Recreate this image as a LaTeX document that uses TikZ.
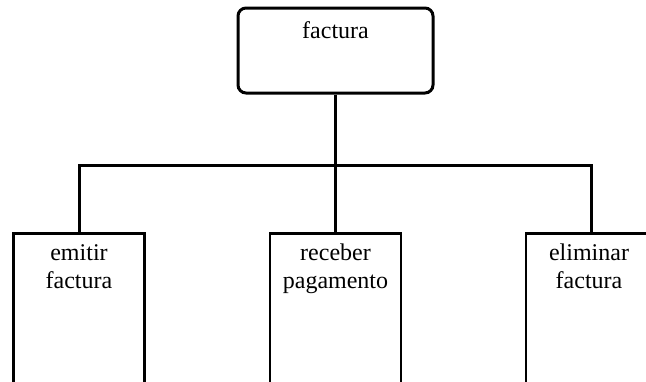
\documentclass[tikz,border=0pt]{standalone}
\usepackage{fontspec}
\setmainfont{Liberation Serif}
\begin{document}
\begin{tikzpicture}[x=1pt,y=-1pt,
  topbox/.style={draw, line width=3pt, rounded corners=8pt, minimum width=195pt, minimum height=85pt, inner sep=0pt},
  subbox/.style={draw, line width=2.6pt, minimum width=131pt, minimum height=151pt, inner sep=0pt, anchor=north},
  lbl/.style={font=\fontsize{24}{28}\selectfont, align=center, anchor=north, inner sep=0pt},
  conn/.style={line width=3pt}]
\useasboundingbox (0,0) rectangle (646,381);
\clip (0,0) rectangle (646,381);
\node[topbox] (top) at (335.5,50.5) {};
\node[subbox] (left) at (79,232) {};
\node[subbox] (mid) at (335.5,232) {};
\node[subbox] (right) at (591.5,232) {};
\node[lbl] (ttop) at (335.5,21) {factura};
\node[lbl] (tleft) at (79,244) {emitir\\factura};
\node[lbl] (tmid) at (335.5,244) {receber\\pagamento};
\node[lbl] (tright) at (589,244) {eliminar\\factura};
\coordinate (j) at (335.5,165);
\draw[conn] (top.south) -- (mid.north);
\draw[conn] (left.north) |- (j) -| (right.north);
\end{tikzpicture}
\end{document}
